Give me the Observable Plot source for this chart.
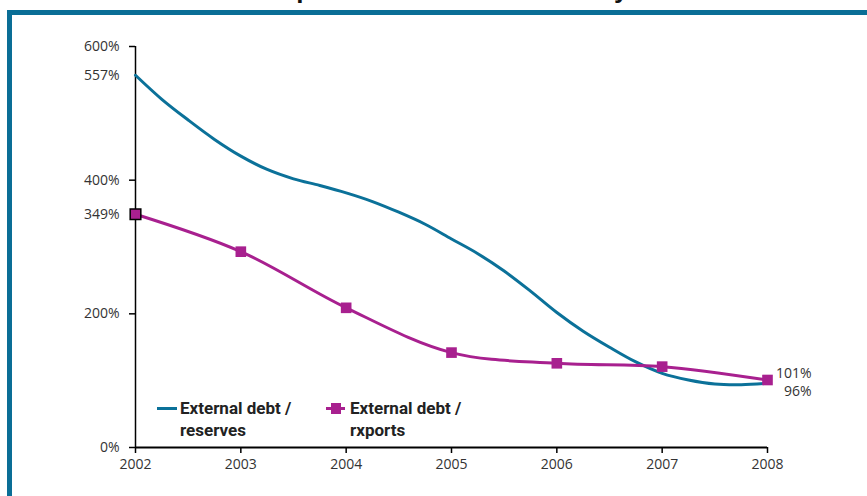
<!DOCTYPE html>
<html>
<head>
<meta charset="utf-8">
<script src="https://cdn.jsdelivr.net/npm/d3@7"></script>
<script src="https://cdn.jsdelivr.net/npm/@observablehq/plot@0.6"></script>
<style>
  html, body { margin: 0; padding: 0; background: #fff; overflow: hidden; }
  #wrap { position: relative; width: 867px; height: 496px; overflow: hidden; }
  #title { position: absolute; top: -24px; left: 0; width: 880px; text-align: center;
           font: bold 26px "Liberation Sans", Arial, sans-serif; line-height: 26px; color: #111; }
  .frameTop { position: absolute; left: 7px; top: 10px; width: 860px; height: 5px; background: #0a6e96; }
  .frameLeft { position: absolute; left: 7px; top: 10px; width: 5px; height: 486px; background: #0a6e96; }
  .legend { position: absolute; font: bold 17px Roboto, sans-serif; color: #222; line-height: 22px; }
  .sw { position: absolute; }
</style>
</head>
<body>
<div id="wrap">
  <div id="title">Graph 3: External vulnerability</div>
  <div class="frameTop"></div>
  <div class="frameLeft"></div>
  <div id="chart"></div>
  <div class="sw" style="left:157px;top:407px;width:20px;height:3px;background:#0b7199"></div>
  <div class="legend" style="left:180px;top:397px">External debt /<br>reserves</div>
  <div class="sw" style="left:326px;top:407px;width:19px;height:3px;background:#a8208f"></div>
  <div class="sw" style="left:331px;top:403px;width:10px;height:11px;background:#a8208f"></div>
  <div class="legend" style="left:350px;top:397px">External debt /<br>rxports</div>
</div>
<script>
const years = [2002, 2003, 2004, 2005, 2006, 2007, 2008];
const debtToExports = [349, 293, 209, 142, 126, 121, 101];

const reservesYears = [2002, 2002.25, 2002.5, 2002.75, 2003, 2003.25, 2003.5, 2003.75, 2004, 2004.25, 2004.5, 2004.75, 2005, 2005.25, 2005.5, 2005.75, 2006, 2006.25, 2006.5, 2006.75, 2007, 2007.25, 2007.5, 2007.75, 2008];
const debtToReserves = [557, 521, 490, 461, 436, 416, 402, 392, 381, 368, 352, 334, 312, 290, 264, 234, 202, 174, 150, 128, 111, 101, 95, 94, 96];

const yTicks = [0, 200, 400, 600];
const yExtraLabels = [349, 557];
const endLabelTop = [{v: 101, text: "101%"}];
const endLabelBottom = [{v: 96, text: "96%"}];

const exportsData = years.map((y, i) => ({year: y, value: debtToExports[i]}));
const reservesData = reservesYears.map((y, i) => ({year: y, value: debtToReserves[i]}));

const blue = "#0b7199";
const magenta = "#a8208f";

const chart = Plot.plot({
  width: 867,
  height: 496,
  marginLeft: 135,
  marginRight: 100,
  marginTop: 46,
  marginBottom: 49,
  style: {fontFamily: "'Open Sans', sans-serif", fontSize: "14px", color: "#333", background: "transparent"},
  x: {domain: [2002, 2008]},
  y: {domain: [0, 600]},
  marks: [
    Plot.axisX({ticks: years, tickFormat: d => String(d), tickSize: 6, tickPadding: 6, label: null, stroke: "#000", strokeWidth: 1.5, fontSize: 14}),
    Plot.axisY({ticks: yTicks, tickFormat: d => d + "%", tickSize: 6, tickPadding: 10, label: null, stroke: "#000", strokeWidth: 1.5, fontSize: 14}),
    Plot.axisY({ticks: yExtraLabels, tickFormat: d => d + "%", tickSize: 0, tickPadding: 16, label: null, fontSize: 14}),
    Plot.ruleX([2002], {stroke: "#000", strokeWidth: 1.5}),
    Plot.ruleY([0], {stroke: "#000", strokeWidth: 2}),
    Plot.line(reservesData, {x: "year", y: "value", stroke: blue, strokeWidth: 3, curve: "catmull-rom"}),
    Plot.line(exportsData, {x: "year", y: "value", stroke: magenta, strokeWidth: 3, curve: "catmull-rom"}),
    Plot.dot(exportsData, {x: "year", y: "value", symbol: "square", r: 6, fill: magenta,
      stroke: (d, i) => i === 0 ? "#000" : "none", strokeWidth: 1.5}),
    Plot.text(endLabelTop, {x: () => 2008, y: "v", text: "text", dx: 44, dy: -6, textAnchor: "end", fill: "#333", fontSize: 14}),
    Plot.text(endLabelBottom, {x: () => 2008, y: "v", text: "text", dx: 44, dy: 8, textAnchor: "end", fill: "#333", fontSize: 14})
  ]
});
document.getElementById("chart").appendChild(chart);
</script>
</body>
</html>
